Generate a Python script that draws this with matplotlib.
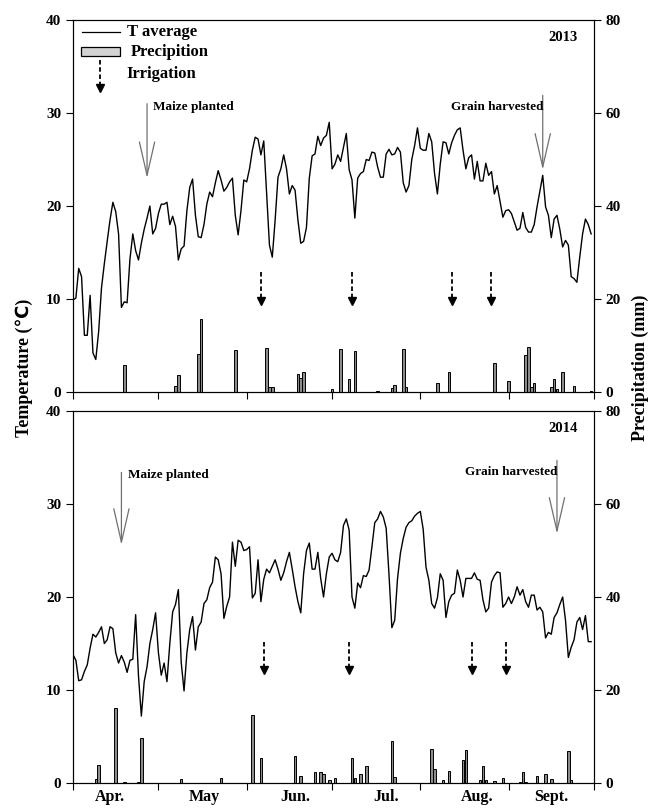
import matplotlib
matplotlib.use('Agg')
import matplotlib.pyplot as plt
from matplotlib.lines import Line2D
from matplotlib.patches import Rectangle

plt.rcParams['font.family'] = ['Liberation Serif', 'DejaVu Sans']
plt.rcParams['font.weight'] = 'bold'

# days counted from 1 April
month_ticks = [0, 30, 61, 91, 122, 153, 183]
month_label_pos = [13, 46, 78, 110, 142, 168]
month_labels = ['Apr.', 'May', 'Jun.', 'Jul.', 'Aug.', 'Sept.']

# daily mean temperature (℃), 1 Apr - 30 Sep
t_2013 = [9.9, 10.1, 13.3, 12.4, 6.1, 6.1, 10.4, 4.2, 3.5, 6.5,
          11.2, 13.8, 16.2, 18.5, 20.4, 19.4, 17.0, 9.1, 9.7, 9.6,
          14.3, 17.0, 15.2, 14.2, 16.0, 17.5, 18.7, 20.0, 17.0, 17.6,
          19.2, 20.2, 20.2, 20.4, 18.0, 18.9, 17.8, 14.2, 15.4, 15.7,
          19.5, 22.0, 22.9, 19.0, 16.7, 16.6, 18.0, 20.2, 21.5, 21.0,
          22.5, 23.8, 22.8, 21.6, 22.0, 22.6, 23.0, 19.0, 16.9, 19.5,
          22.8, 22.6, 24.0, 26.0, 27.4, 27.2, 25.5, 27.0, 21.5, 15.8,
          14.5, 18.5, 23.1, 24.0, 25.5, 24.0, 21.3, 22.2, 21.7, 18.5,
          16.0, 16.2, 17.7, 23.0, 25.4, 25.6, 27.5, 26.5, 27.3, 27.6,
          29.0, 24.0, 24.5, 25.5, 24.8, 26.3, 27.8, 23.9, 22.8, 18.7,
          23.0, 23.5, 23.7, 25.0, 24.9, 25.8, 25.7, 24.2, 23.1, 23.1,
          25.6, 26.1, 25.5, 25.6, 26.3, 25.8, 22.5, 21.5, 22.2, 25.0,
          26.5, 28.4, 26.2, 26.0, 26.0, 27.8, 26.9, 23.5, 21.3, 24.5,
          26.9, 26.8, 25.6, 26.8, 27.6, 28.2, 28.4, 26.0, 24.0, 25.2,
          25.5, 22.9, 24.8, 22.7, 22.7, 24.6, 23.3, 23.7, 21.3, 22.2,
          20.5, 18.8, 19.5, 19.6, 19.2, 18.3, 17.4, 17.6, 19.3, 17.7,
          17.2, 17.2, 18.0, 19.9, 21.6, 23.3, 19.9, 19.0, 16.6, 18.6,
          19.0, 17.5, 15.6, 16.3, 15.8, 12.4, 12.2, 11.8, 14.5, 17.0,
          18.6, 18.0, 17.0]

t_2014 = [13.8, 13.2, 11.0, 11.1, 12.0, 12.7, 14.5, 16.0, 15.7, 16.2,
          16.8, 15.0, 15.4, 16.8, 16.6, 14.0, 12.9, 13.7, 13.0, 11.9,
          13.2, 13.3, 18.1, 11.5, 7.2, 10.9, 12.5, 15.0, 16.5, 18.3,
          14.0, 11.6, 12.9, 10.9, 15.0, 18.4, 19.2, 20.8, 13.0, 9.9,
          14.0, 16.5, 17.9, 14.3, 16.8, 17.3, 19.3, 19.7, 21.0, 21.6,
          24.3, 24.0, 22.5, 17.7, 19.0, 20.0, 25.9, 23.3, 26.1, 25.9,
          25.0, 25.1, 25.4, 19.9, 20.4, 24.0, 19.5, 21.9, 23.0, 22.6,
          23.3, 24.0, 23.0, 21.8, 22.6, 23.8, 24.8, 23.0, 21.1, 19.5,
          18.3, 22.5, 25.0, 25.8, 23.0, 23.0, 24.8, 22.0, 20.0, 22.5,
          24.3, 24.7, 24.0, 23.8, 24.8, 27.7, 28.4, 27.2, 20.0, 18.8,
          21.5, 21.0, 22.3, 22.2, 22.9, 25.4, 28.0, 28.4, 29.2, 28.6,
          27.4, 22.4, 16.7, 17.5, 22.0, 24.7, 26.3, 27.5, 28.0, 28.2,
          28.7, 29.0, 29.2, 27.3, 23.2, 21.8, 19.3, 18.8, 19.9, 22.5,
          21.8, 17.8, 19.5, 20.2, 20.4, 22.9, 21.8, 20.0, 22.0, 22.0,
          22.0, 22.6, 21.9, 21.8, 19.7, 18.4, 18.8, 21.6, 22.3, 22.7,
          22.6, 18.9, 19.3, 20.0, 19.3, 20.0, 21.1, 20.2, 20.8, 19.5,
          18.9, 20.2, 20.2, 18.6, 18.9, 18.4, 15.6, 16.2, 16.0, 17.8,
          18.3, 19.2, 20.0, 17.5, 13.5, 14.6, 15.4, 17.3, 17.8, 16.5,
          18.0, 15.2, 15.2]

# precipitation (mm) on rainy days
rain_days_2013 = [18, 36, 37, 44, 45, 57, 68, 69, 70, 79, 80, 81, 91, 94, 97,
                  99, 107, 112, 113, 116, 117, 128, 132, 148, 153, 159, 160,
                  161, 162, 168, 169, 170, 172, 176, 182]
rain_2013 = [5.9, 1.4, 3.6, 8.2, 15.8, 9.0, 9.5, 1.0, 1.0, 3.9, 3.0, 4.4, 0.6,
             9.2, 2.9, 8.9, 0.3, 0.8, 1.6, 9.3, 1.0, 1.9, 4.4, 6.3, 2.4, 8.0,
             9.6, 1.0, 2.0, 1.0, 2.9, 0.6, 4.4, 1.4, 0.3]

rain_days_2014 = [8, 9, 15, 18, 23, 24, 38, 52, 63, 66, 78, 80, 85, 87, 88, 90,
                  92, 98, 99, 101, 103, 112, 113, 126, 127, 130, 132, 137, 138,
                  143, 144, 145, 148, 151, 157, 158, 159, 163, 166, 168, 174, 175]
rain_2014 = [0.8, 3.9, 16.1, 0.2, 0.2, 9.7, 0.8, 1.0, 14.6, 5.3, 5.8, 1.5, 2.3,
             2.3, 2.0, 0.7, 1.1, 5.3, 1.1, 1.9, 3.7, 9.0, 1.4, 7.4, 3.1, 0.7,
             2.5, 5.0, 7.2, 0.7, 3.7, 0.7, 0.4, 1.1, 0.3, 2.4, 0.3, 1.6, 2.0,
             0.9, 6.8, 0.6]

irrig_2013 = [66, 98, 133, 147]
irrig_2014 = [67, 97, 140, 152]

# sowing / harvest days
plant_2013, harvest_2013 = 26, 165
plant_2014, harvest_2014 = 17, 170

fig = plt.figure(figsize=(6.52, 8.10), dpi=100)
ax_top = fig.add_axes([0.112, 0.516, 0.799, 0.4593])
ax_bot = fig.add_axes([0.112, 0.0333, 0.799, 0.4593])


def event_arrow(ax, day, top, tip, label, side):
    ax.annotate('', xy=(day, tip), xytext=(day, top),
                arrowprops=dict(arrowstyle='->,head_length=24,head_width=5.5',
                                mutation_scale=1, color='#707070', lw=0.9,
                                shrinkA=0, shrinkB=0))
    if side == 'right':
        ax.text(day + 2.2, top - 0.3, label, ha='left', va='center', fontsize=9.5)
    else:
        ax.text(day + 0.3, top - 1.3, label, ha='right', va='center', fontsize=9.5)


def draw_panel(ax, temps, rain_days, rain, irrig, irr_top, irr_tip, year, show_months):
    ax2 = ax.twinx()
    ax2.bar(rain_days, rain, width=0.9, color='#8c8c8c', edgecolor='black', linewidth=0.7)
    ax2.set_ylim(0, 80)
    ax2.set_yticks([0, 20, 40, 60, 80])
    ax2.tick_params(axis='y', direction='out', length=5, labelsize=11)

    ax.plot(range(len(temps)), temps, color='black', lw=1.0, zorder=5)
    ax.set_zorder(ax2.get_zorder() + 1)
    ax.patch.set_visible(False)

    for d in irrig:
        ax.plot([d, d], [irr_top, irr_tip + 0.6], color='black', ls=(0, (2.5, 1.5)), lw=1.3)
        ax.plot(d, irr_tip + 0.5, marker='v', color='black', markersize=5.5)

    ax.set_xlim(0, 183)
    ax.set_ylim(0, 40)
    ax.set_yticks([0, 10, 20, 30, 40])
    ax.set_xticks(month_ticks)
    ax.set_xticklabels([])
    ax.set_xticks(month_label_pos, minor=True)
    if show_months:
        ax.set_xticklabels(month_labels, minor=True)
    ax.tick_params(axis='x', which='minor', length=0, labelsize=11.5, pad=4)
    ax.tick_params(axis='both', which='major', direction='out', length=5, labelsize=11)
    ax.text(0.969, 0.952, year, transform=ax.transAxes, ha='right', va='center', fontsize=10.5)
    return ax2


draw_panel(ax_top, t_2013, rain_days_2013, rain_2013, irrig_2013, 12.9, 9.3, '2013', False)
draw_panel(ax_bot, t_2014, rain_days_2014, rain_2014, irrig_2014, 15.2, 11.6, '2014', True)

event_arrow(ax_top, plant_2013, 31.0, 23.0, 'Maize planted', 'right')
event_arrow(ax_top, harvest_2013, 31.9, 23.9, 'Grain harvested', 'left')
event_arrow(ax_bot, plant_2014, 33.4, 25.6, 'Maize planted', 'right')
event_arrow(ax_bot, harvest_2014, 34.7, 26.8, 'Grain harvested', 'left')

# legend drawn by hand in the upper panel
tr = ax_top.transAxes
ax_top.add_line(Line2D([0.017, 0.090], [0.968, 0.968], transform=tr, color='black', lw=0.9))
ax_top.text(0.104, 0.968, 'T average', transform=tr, va='center', fontsize=12)
ax_top.add_patch(Rectangle((0.015, 0.903), 0.075, 0.024, transform=tr,
                           facecolor='#d3d3d3', edgecolor='black', lw=0.9))
ax_top.text(0.111, 0.914, 'Precipition', transform=tr, va='center', fontsize=12)
ax_top.add_line(Line2D([0.052, 0.052], [0.892, 0.822], transform=tr, color='black',
                       ls=(0, (2.5, 1.5)), lw=1.3))
ax_top.plot(0.052, 0.817, marker='v', color='black', markersize=5.5, transform=tr)
ax_top.text(0.102, 0.855, 'Irrigation', transform=tr, va='center', fontsize=12)

fig.text(0.037, 0.546, 'Temperature (℃)', rotation=90, ha='center', va='center', fontsize=13)
fig.text(0.982, 0.546, 'Precipitation (mm)', rotation=90, ha='center', va='center', fontsize=13)

fig.savefig('out.png', dpi=100)
